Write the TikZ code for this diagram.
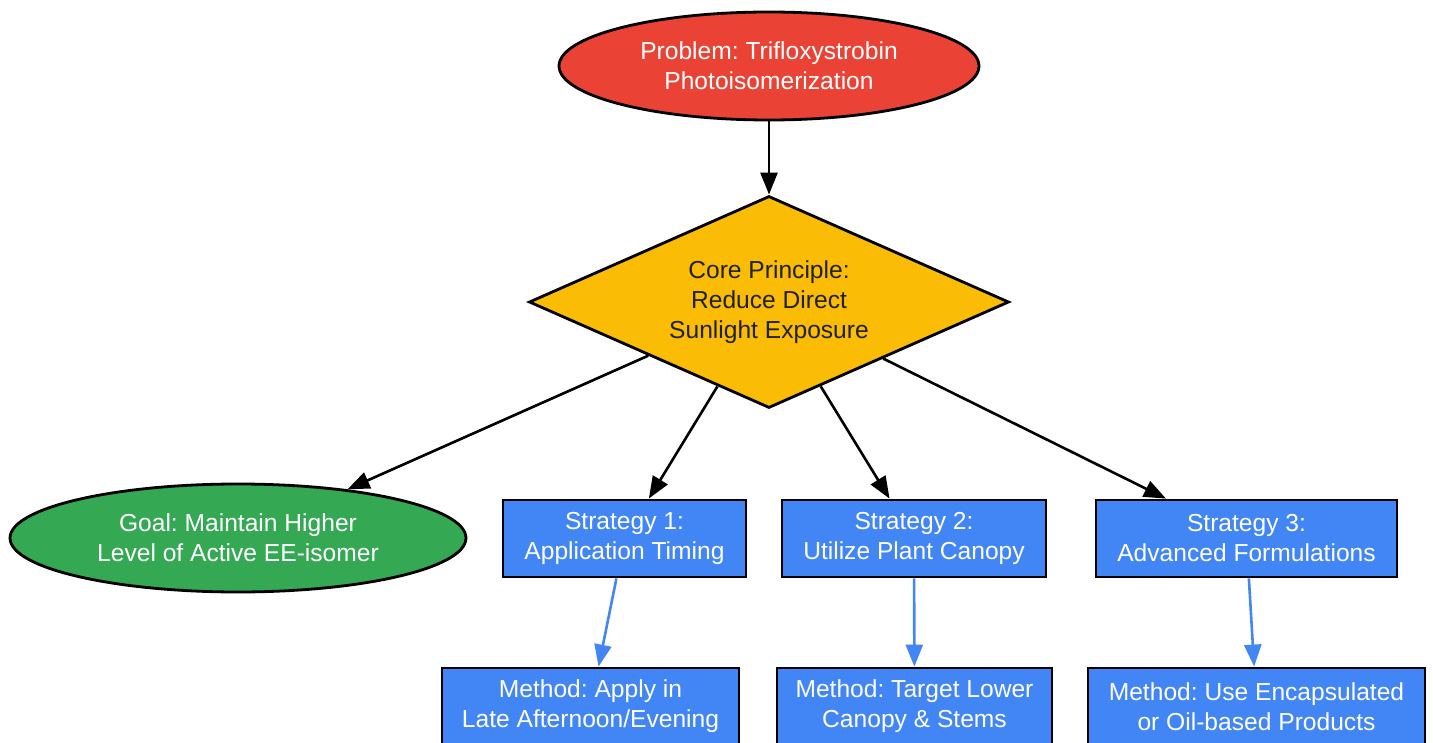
\documentclass[tikz,border=0pt]{standalone}
\usepackage{fontspec}
\setmainfont{Liberation Sans}
\usetikzlibrary{shapes.geometric,arrows.meta}
\definecolor{cred}{HTML}{EA4335}
\definecolor{cyellow}{HTML}{FABC05}
\definecolor{cgreen}{HTML}{34A853}
\definecolor{cblue}{HTML}{4285F4}
\definecolor{cdark}{HTML}{202124}
\begin{document}
\frenchspacing
\begin{tikzpicture}[x=1pt,y=-1pt,
  every node/.style={font=\fontsize{24.6}{30}\selectfont, align=center, line width=2.8pt, draw=black, inner sep=0pt},
  oval/.style={ellipse, text=white},
  decision/.style={diamond, shape aspect=2.26, fill=cyellow, text=cdark, minimum width=480pt, minimum height=212pt},
  box/.style={rectangle, fill=cblue, text=white, minimum height=77pt},
  arr/.style={line width=2.6pt, -{Triangle[length=22pt,width=17pt]}},
  barr/.style={line width=2.6pt, draw=cblue, -{Triangle[length=22pt,width=17pt]}}
]
\useasboundingbox (0,0) rectangle (1433,743);
\node[oval, fill=cred, minimum width=420pt, minimum height=108pt] (prob) at (769,66) {Problem: Trifloxystrobin\\Photoisomerization};
\node[decision] (core) at (769,302) {Core Principle:\\Reduce Direct\\Sunlight Exposure};
\node[oval, fill=cgreen, minimum width=456pt, minimum height=108pt] (goal) at (238,538) {Goal: Maintain Higher\\Level of Active EE-isomer};
\node[box, minimum width=243pt] (s1) at (624.5,538.5) {Strategy 1:\\Application Timing};
\node[box, minimum width=264pt] (s2) at (914,538.5) {Strategy 2:\\Utilize Plant Canopy};
\node[box, minimum width=301pt] (s3) at (1246.5,538.5) {Strategy 3:\\Advanced Formulations};
\node[box, minimum width=297pt] (m1) at (590.5,706.5) {Method: Apply in\\Late Afternoon/Evening};
\node[box, minimum width=275pt] (m2) at (914.5,706.5) {Method: Target Lower\\Canopy \& Stems};
\node[box, minimum width=337pt] (m3) at (1256.5,706.5) {Method: Use Encapsulated\\or Oil-based Products};
\draw[arr] (prob) -- (core);
\draw[arr] (core) -- (goal);
\draw[arr] (core) -- (s1);
\draw[arr] (core) -- (s2);
\draw[arr] (core) -- (s3);
\draw[barr] (s1) -- (m1);
\draw[barr] (s2) -- (m2);
\draw[barr] (s3) -- (m3);
\end{tikzpicture}
\end{document}
